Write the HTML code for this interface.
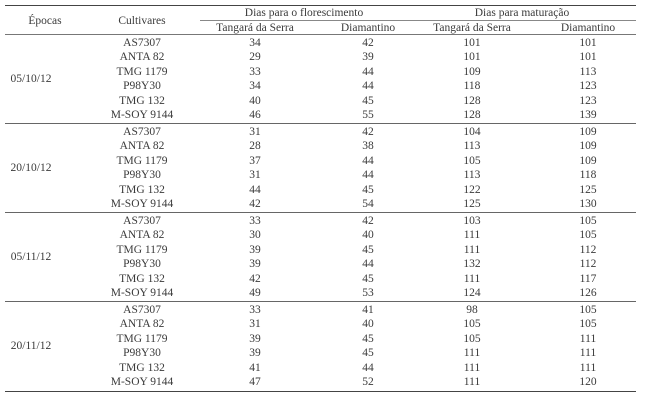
<!DOCTYPE html>
<html><head><meta charset="utf-8"><style>
html,body{margin:0;padding:0;background:#fff;}
#w{position:relative;width:649px;height:400px;overflow:hidden;font-family:"Liberation Serif",serif;font-size:11.5px;color:#3a3a3a;}
.t{position:absolute;transform:translateX(-50%);white-space:nowrap;line-height:12px;}
.l{position:absolute;height:1px;background:#444;}
.c1{left:142px}.c2{left:255px}.c3{left:368px}.c4{left:472px}.c5{left:588px}
</style></head><body><div id="w">
<div class="l" style="left:5px;width:631px;top:5px;height:1.3px;"></div>
<div class="l" style="left:200px;width:436px;top:20px;background:#888;"></div>
<div class="l" style="left:5px;width:631px;top:34px;background:#777;"></div>
<div class="l" style="left:5px;width:631px;top:123px;background:#666;"></div>
<div class="l" style="left:5px;width:631px;top:212px;background:#666;"></div>
<div class="l" style="left:5px;width:631px;top:301px;background:#666;"></div>
<div class="l" style="left:5px;width:631px;top:391px;height:1.3px;"></div>

<div class="t" style="left:45px;top:15px">Épocas</div>
<div class="t c1" style="top:15px">Cultivares</div>
<div class="t" style="left:304px;top:7px">Dias para o florescimento</div>
<div class="t" style="left:522px;top:7px">Dias para maturação</div>
<div class="t c2" style="top:22px">Tangará da Serra</div>
<div class="t c3" style="top:22px">Diamantino</div>
<div class="t c4" style="top:22px">Tangará da Serra</div>
<div class="t c5" style="top:22px">Diamantino</div>

<div class="t" style="left:31px;top:73px">05/10/12</div>
<div class="t" style="left:31px;top:162px">20/10/12</div>
<div class="t" style="left:31px;top:251px">05/11/12</div>
<div class="t" style="left:31px;top:340px">20/11/12</div>

<div class="t c1" style="top:37px">AS7307</div><div class="t c2" style="top:37px">34</div><div class="t c3" style="top:37px">42</div><div class="t c4" style="top:37px">101</div><div class="t c5" style="top:37px">101</div>
<div class="t c1" style="top:51.4px">ANTA 82</div><div class="t c2" style="top:51.4px">29</div><div class="t c3" style="top:51.4px">39</div><div class="t c4" style="top:51.4px">101</div><div class="t c5" style="top:51.4px">101</div>
<div class="t c1" style="top:65.8px">TMG 1179</div><div class="t c2" style="top:65.8px">33</div><div class="t c3" style="top:65.8px">44</div><div class="t c4" style="top:65.8px">109</div><div class="t c5" style="top:65.8px">113</div>
<div class="t c1" style="top:80.2px">P98Y30</div><div class="t c2" style="top:80.2px">34</div><div class="t c3" style="top:80.2px">44</div><div class="t c4" style="top:80.2px">118</div><div class="t c5" style="top:80.2px">123</div>
<div class="t c1" style="top:94.6px">TMG 132</div><div class="t c2" style="top:94.6px">40</div><div class="t c3" style="top:94.6px">45</div><div class="t c4" style="top:94.6px">128</div><div class="t c5" style="top:94.6px">123</div>
<div class="t c1" style="top:109px">M-SOY 9144</div><div class="t c2" style="top:109px">46</div><div class="t c3" style="top:109px">55</div><div class="t c4" style="top:109px">128</div><div class="t c5" style="top:109px">139</div>

<div class="t c1" style="top:126px">AS7307</div><div class="t c2" style="top:126px">31</div><div class="t c3" style="top:126px">42</div><div class="t c4" style="top:126px">104</div><div class="t c5" style="top:126px">109</div>
<div class="t c1" style="top:140.4px">ANTA 82</div><div class="t c2" style="top:140.4px">28</div><div class="t c3" style="top:140.4px">38</div><div class="t c4" style="top:140.4px">113</div><div class="t c5" style="top:140.4px">109</div>
<div class="t c1" style="top:154.8px">TMG 1179</div><div class="t c2" style="top:154.8px">37</div><div class="t c3" style="top:154.8px">44</div><div class="t c4" style="top:154.8px">105</div><div class="t c5" style="top:154.8px">109</div>
<div class="t c1" style="top:169.2px">P98Y30</div><div class="t c2" style="top:169.2px">31</div><div class="t c3" style="top:169.2px">44</div><div class="t c4" style="top:169.2px">113</div><div class="t c5" style="top:169.2px">118</div>
<div class="t c1" style="top:183.6px">TMG 132</div><div class="t c2" style="top:183.6px">44</div><div class="t c3" style="top:183.6px">45</div><div class="t c4" style="top:183.6px">122</div><div class="t c5" style="top:183.6px">125</div>
<div class="t c1" style="top:198px">M-SOY 9144</div><div class="t c2" style="top:198px">42</div><div class="t c3" style="top:198px">54</div><div class="t c4" style="top:198px">125</div><div class="t c5" style="top:198px">130</div>

<div class="t c1" style="top:215px">AS7307</div><div class="t c2" style="top:215px">33</div><div class="t c3" style="top:215px">42</div><div class="t c4" style="top:215px">103</div><div class="t c5" style="top:215px">105</div>
<div class="t c1" style="top:229.4px">ANTA 82</div><div class="t c2" style="top:229.4px">30</div><div class="t c3" style="top:229.4px">40</div><div class="t c4" style="top:229.4px">111</div><div class="t c5" style="top:229.4px">105</div>
<div class="t c1" style="top:243.8px">TMG 1179</div><div class="t c2" style="top:243.8px">39</div><div class="t c3" style="top:243.8px">45</div><div class="t c4" style="top:243.8px">111</div><div class="t c5" style="top:243.8px">112</div>
<div class="t c1" style="top:258.2px">P98Y30</div><div class="t c2" style="top:258.2px">39</div><div class="t c3" style="top:258.2px">44</div><div class="t c4" style="top:258.2px">132</div><div class="t c5" style="top:258.2px">112</div>
<div class="t c1" style="top:272.6px">TMG 132</div><div class="t c2" style="top:272.6px">42</div><div class="t c3" style="top:272.6px">45</div><div class="t c4" style="top:272.6px">111</div><div class="t c5" style="top:272.6px">117</div>
<div class="t c1" style="top:287px">M-SOY 9144</div><div class="t c2" style="top:287px">49</div><div class="t c3" style="top:287px">53</div><div class="t c4" style="top:287px">124</div><div class="t c5" style="top:287px">126</div>

<div class="t c1" style="top:304px">AS7307</div><div class="t c2" style="top:304px">33</div><div class="t c3" style="top:304px">41</div><div class="t c4" style="top:304px">98</div><div class="t c5" style="top:304px">105</div>
<div class="t c1" style="top:318.4px">ANTA 82</div><div class="t c2" style="top:318.4px">31</div><div class="t c3" style="top:318.4px">40</div><div class="t c4" style="top:318.4px">105</div><div class="t c5" style="top:318.4px">105</div>
<div class="t c1" style="top:332.8px">TMG 1179</div><div class="t c2" style="top:332.8px">39</div><div class="t c3" style="top:332.8px">45</div><div class="t c4" style="top:332.8px">105</div><div class="t c5" style="top:332.8px">111</div>
<div class="t c1" style="top:347.2px">P98Y30</div><div class="t c2" style="top:347.2px">39</div><div class="t c3" style="top:347.2px">45</div><div class="t c4" style="top:347.2px">111</div><div class="t c5" style="top:347.2px">111</div>
<div class="t c1" style="top:361.6px">TMG 132</div><div class="t c2" style="top:361.6px">41</div><div class="t c3" style="top:361.6px">44</div><div class="t c4" style="top:361.6px">111</div><div class="t c5" style="top:361.6px">111</div>
<div class="t c1" style="top:376px">M-SOY 9144</div><div class="t c2" style="top:376px">47</div><div class="t c3" style="top:376px">52</div><div class="t c4" style="top:376px">111</div><div class="t c5" style="top:376px">120</div>
</div></body></html>
